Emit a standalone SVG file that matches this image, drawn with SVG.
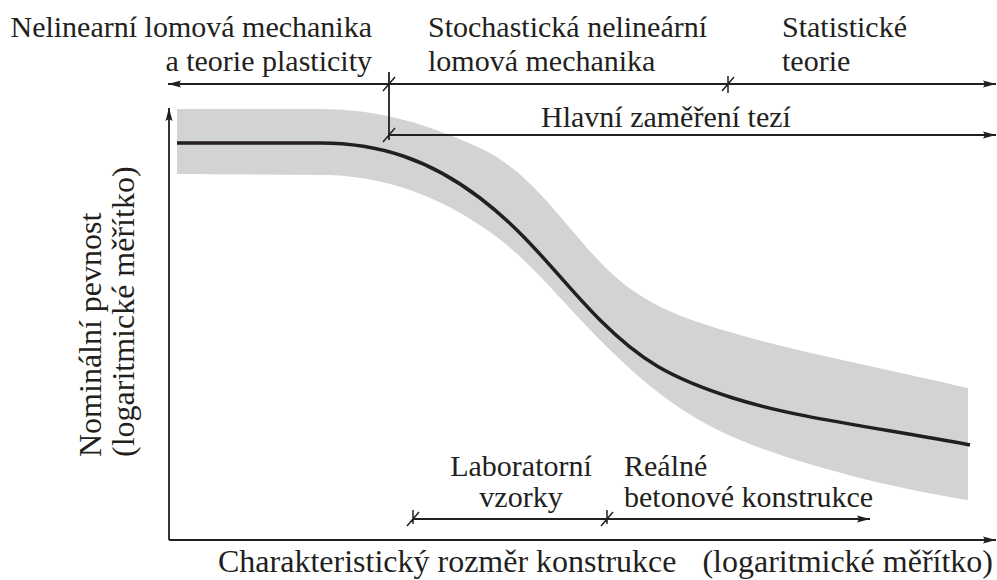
<svg xmlns="http://www.w3.org/2000/svg" width="997" height="580" viewBox="0 0 997 580">
<style>
text{font-family:"Liberation Serif","Times New Roman",serif;fill:#231f20;font-size:30px}
.ax{font-size:32px}
.ln{stroke:#231f20;stroke-width:1.8;fill:none}
.tk{stroke:#231f20;stroke-width:1.5;fill:none}
</style>
<defs>
<marker id="ah" markerUnits="userSpaceOnUse" markerWidth="14" markerHeight="8" refX="13" refY="4" orient="auto">
<path d="M0,0.5 L13,4 L0,7.5 L2,4 z" fill="#231f20"/>
</marker>
</defs>
<g id="band">
<path d="M177,109 L320,109 C380,109 430,125 480,148 S560,220 600,262 S680,318 740,335 S900,372 968,388 L968,500 C900,490 800,465 740,440 S640,380 600,340 S530,260 490,232 S400,178 330,175 L177,174 Z" fill="#d1d3d4"/>
</g>
<g id="curve">
<path d="M177,143 L320,143 C380,143 430,160 480,198 S560,280 600,320 S670,378 733,398 S880,428 970,445" stroke="#231f20" stroke-width="3.5" fill="none"/>
</g>
<g id="connectors">
<line class="ln" x1="169" y1="540" x2="169" y2="108" marker-end="url(#ah)"/>
<line class="ln" x1="169" y1="540" x2="996" y2="540" marker-end="url(#ah)"/>
<line class="ln" x1="389" y1="84" x2="168" y2="84" marker-end="url(#ah)"/>
<line class="ln" x1="389" y1="84" x2="996" y2="84" marker-end="url(#ah)"/>
<line class="ln" x1="389" y1="72" x2="389" y2="140"/>
<line class="ln" x1="389" y1="135" x2="996" y2="135" marker-end="url(#ah)"/>
<line class="ln" x1="413" y1="519" x2="870" y2="519" marker-end="url(#ah)"/>
<path class="tk" d="M383,91 L395,77 M383,142 L395,128 M728,76 L728,93 M722,91 L734,77 M413,510 L413,524 M407,526 L419,512 M607,510 L607,524 M601,526 L613,512"/>
</g>
<g id="label-nlm">
<text x="372" y="37" text-anchor="end">Nelinearní lomová mechanika</text>
<text x="372" y="71" text-anchor="end">a teorie plasticity</text>
</g>
<g id="label-snlm">
<text x="428" y="37">Stochastická nelineární</text>
<text x="428" y="71">lomová mechanika</text>
</g>
<g id="label-stat">
<text x="782" y="37">Statistické</text>
<text x="782" y="71">teorie</text>
</g>
<g id="label-hlavni">
<text x="541" y="127">Hlavní zaměření tezí</text>
</g>
<g id="label-lab">
<text x="521" y="476" text-anchor="middle">Laboratorní</text>
<text x="521" y="507" text-anchor="middle">vzorky</text>
</g>
<g id="label-real">
<text x="624" y="476">Reálné</text>
<text x="624" y="507">betonové konstrukce</text>
</g>
<g id="label-x">
<text class="ax" x="218" y="572">Charakteristický rozměr konstrukce</text>
<text class="ax" x="993" y="572" text-anchor="end">(logaritmické měřítko)</text>
</g>
<g id="label-y">
<text class="ax" transform="translate(101,457) rotate(-90)">Nominální pevnost</text>
<text class="ax" transform="translate(134,457) rotate(-90)">(logaritmické měřítko)</text>
</g>
</svg>
